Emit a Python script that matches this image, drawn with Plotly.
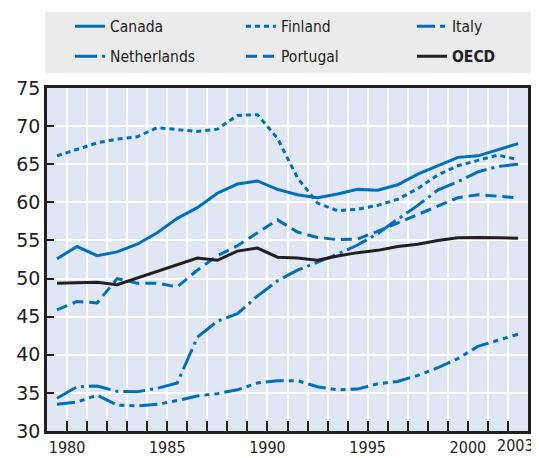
import plotly.graph_objects as go

years = list(range(1980, 2004))
canada = [52.6, 54.2, 53.0, 53.5, 54.5, 56.0, 57.9, 59.3, 61.2, 62.4, 62.8, 61.7,
          61.0, 60.6, 61.1, 61.7, 61.6, 62.3, 63.7, 64.8, 65.9, 66.1, 66.9, 67.7]
finland = [66.1, 66.9, 67.8, 68.3, 68.6, 69.8, 69.5, 69.3, 69.6, 71.4, 71.5, 68.4,
           63.2, 59.9, 58.9, 59.1, 59.6, 60.4, 61.8, 63.6, 64.8, 65.5, 66.2, 65.6]
italy = [33.5, 33.8, 34.7, 33.4, 33.3, 33.5, 34.0, 34.6, 34.9, 35.4, 36.3, 36.6,
         36.6, 35.8, 35.4, 35.5, 36.2, 36.5, 37.3, 38.3, 39.5, 41.1, 41.9, 42.7]
netherlands = [34.3, 35.8, 35.9, 35.2, 35.15, 35.6, 36.3, 42.3, 44.4, 45.4, 47.7, 49.7,
               51.1, 52.1, 53.2, 54.4, 55.9, 57.8, 59.6, 61.6, 62.7, 64.0, 64.7, 65.0]
portugal = [45.9, 47.0, 46.8, 50.0, 49.4, 49.4, 48.9, 51.1, 53.0, 54.3, 56.0, 57.7,
            56.1, 55.4, 55.1, 55.2, 56.2, 57.3, 58.4, 59.5, 60.6, 61.0, 60.8, 60.6]
oecd = [49.4, 49.45, 49.5, 49.2, 50.1, 50.9, 51.8, 52.7, 52.4, 53.6, 54.0, 52.8,
        52.7, 52.4, 52.95, 53.4, 53.7, 54.2, 54.5, 55.0, 55.35, 55.4, 55.35, 55.3]

x_ticks = [1980, 1985, 1990, 1995, 2000]
last_tick_label = "2003"

BLUE = "#0070bb"
DARK = "#231f20"
COND = "DejaVu Sans Condensed, Liberation Sans Narrow, sans-serif"
REG = "DejaVu Sans, sans-serif"

# points sit in the middle of each year's interval
xpos = [y - 0.5 for y in years]

series = [
    ("Canada", canada, "solid", BLUE, "legend", 126),
    ("Finland", finland, "5px,4px", BLUE, "legend", 126),
    ("Italy", italy, "18px,5px,5px,5px,5px,5px", BLUE, "legend", 60),
    ("Netherlands", netherlands, "22px,5px,3px,5px", BLUE, "legend2", 126),
    ("Portugal", portugal, "11px,6px", BLUE, "legend2", 126),
    ("<b>OECD</b>", oecd, "solid", DARK, "legend2", 60),
]

fig = go.Figure()
for name, vals, dash, color, leg, lw in series:
    fig.add_trace(go.Scatter(
        x=xpos, y=vals, mode="lines", name=name,
        line=dict(color=color, width=3, dash=dash),
        legend=leg, legendwidth=lw,
    ))

# the page body adds an 8px offset; size the figure so it ends at the window edge
OFF = 8
W, H = 539 - OFF, 458 - OFF
# plot area in screen pixels: x 47..528, y 88..431
L = 47 - OFF
T = 88 - OFF
R = W - (528 - OFF)
B = H - (431 - OFF)
pw, ph = W - L - R, H - T - B

def sx(px):
    return (px - OFF - L) / pw

def sy(py):
    return (H - B - (py - OFF)) / ph

legend_common = dict(
    orientation="h", xref="paper", yref="paper",
    x=sx(70), xanchor="left", yanchor="middle",
    bgcolor="rgba(0,0,0,0)", borderwidth=0,
    font=dict(family=COND, size=15.5, color=DARK),
    entrywidthmode="pixels", itemwidth=30,
)

fig.update_layout(
    width=W, height=H,
    margin=dict(l=L, r=R, t=T, b=B, autoexpand=False),
    paper_bgcolor="white",
    plot_bgcolor="#e0e6f4",
    font=dict(family=COND, size=16, color=DARK),
    legend=dict(y=sy(26.7), **legend_common),
    legend2=dict(y=sy(56.7), **legend_common),
    shapes=[dict(
        type="rect", xref="paper", yref="paper", layer="below",
        x0=sx(45), x1=sx(540),
        y0=sy(73), y1=sy(12),
        fillcolor="#ebebeb", line=dict(width=0),
    )],
    annotations=[dict(
        x=years[-1] - 0.5, y=0, xref="x", yref="paper",
        text=last_tick_label, showarrow=False, yanchor="top",
        yshift=-3, xshift=-2, font=dict(family=COND, size=16, color=DARK),
    )],
)

fig.update_xaxes(
    range=[years[0] - 1, years[-1]], automargin=False,
    tickvals=x_ticks, ticktext=[str(v) for v in x_ticks],
    ticks="inside", ticklen=10, tickwidth=1.5, tickcolor=DARK,
    ticklabelstandoff=0,
    showgrid=True, gridcolor="white", gridwidth=2,
    minor=dict(dtick=1, tick0=years[0] - 1, ticks="inside", ticklen=10,
               tickwidth=1.5, tickcolor=DARK, showgrid=True,
               gridcolor="white", gridwidth=2),
    showline=True, linecolor=DARK, linewidth=2.5, mirror=True,
    zeroline=False, tickfont=dict(family=COND, size=16, color=DARK),
)
fig.update_yaxes(
    range=[30, 75], dtick=5, tick0=30, automargin=False,
    ticks="inside", ticklen=7, tickwidth=2, tickcolor=DARK,
    showgrid=True, gridcolor="white", gridwidth=2,
    showline=True, linecolor=DARK, linewidth=2.5, mirror=True,
    zeroline=False, tickfont=dict(family=REG, size=19, color=DARK),
)

fig.write_html("out.html")
